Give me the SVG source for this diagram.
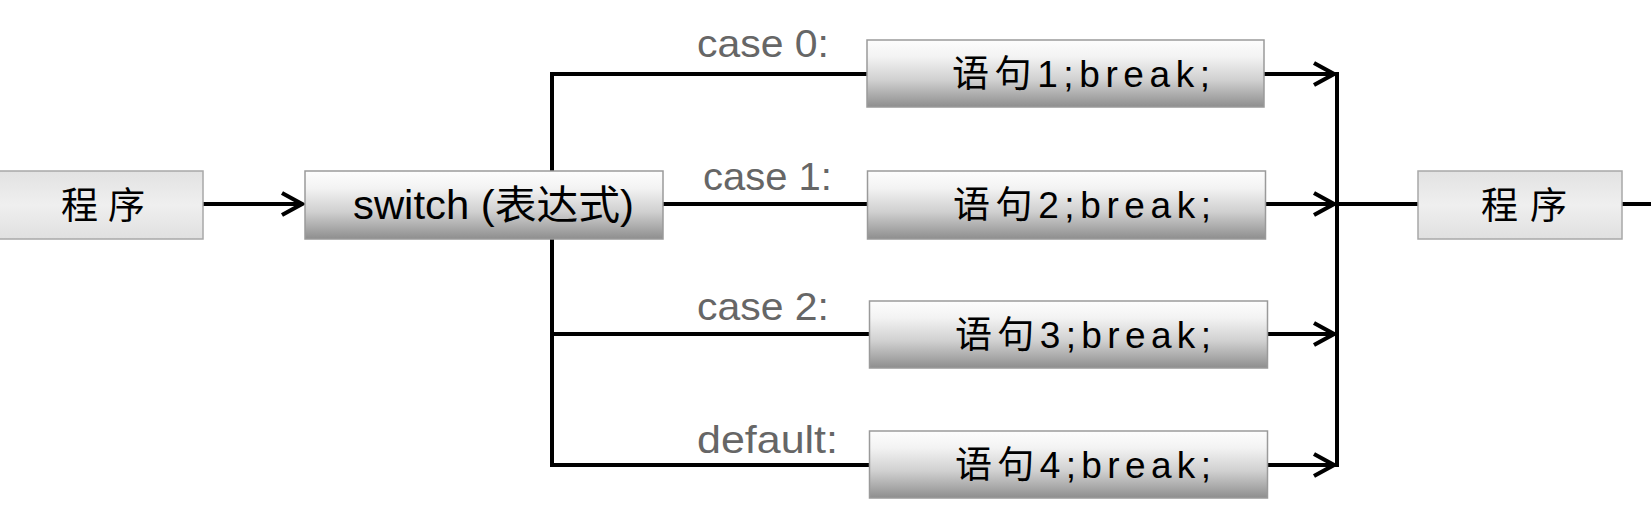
<svg xmlns="http://www.w3.org/2000/svg" width="1651" height="508" viewBox="0 0 1651 508">
<style>
.conn{fill:none;stroke:#000;stroke-width:4}
.grad{fill:url(#g1);stroke:#9a9a9a;stroke-width:1.5}
.flat{fill:url(#g2);stroke:#a8a8a8;stroke-width:1.5}
.t{font-family:"Liberation Sans","Noto Sans CJK SC",sans-serif;fill:#000}
.lbl{font-family:"Liberation Sans","Noto Sans CJK SC",sans-serif;fill:#666;font-size:39px}
</style>
<defs>
<linearGradient id="g1" x1="0" y1="0" x2="0" y2="1">
<stop offset="0" stop-color="#fdfdfd"/>
<stop offset="0.25" stop-color="#f3f3f3"/>
<stop offset="0.6" stop-color="#d0d0d0"/>
<stop offset="1" stop-color="#8e8e8e"/>
</linearGradient>
<linearGradient id="g2" x1="0" y1="0" x2="0" y2="1">
<stop offset="0" stop-color="#e2e2e2"/>
<stop offset="0.5" stop-color="#efefef"/>
<stop offset="1" stop-color="#e0e0e0"/>
</linearGradient>
<marker id="arr" markerUnits="userSpaceOnUse" viewBox="-28 -16 36 32" refX="0" refY="0" markerWidth="36" markerHeight="32" orient="auto">
<path d="M-20,-11 L0,0 L-20,11" fill="none" stroke="#000" stroke-width="4.2"/>
</marker>
</defs>
<g id="connectors">
<path class="conn" d="M203,204 H302" marker-end="url(#arr)"/>
<path class="conn" d="M663,204 H867"/>
<path class="conn" d="M552,74 V465"/>
<path class="conn" d="M550,74 H867"/>
<path class="conn" d="M552,334 H869"/>
<path class="conn" d="M550,465 H869"/>
<path class="conn" d="M1264,74 H1334" marker-end="url(#arr)"/>
<path class="conn" d="M1266,204 H1334" marker-end="url(#arr)"/>
<path class="conn" d="M1268,334 H1334" marker-end="url(#arr)"/>
<path class="conn" d="M1268,465 H1334" marker-end="url(#arr)"/>
<path class="conn" d="M1337,72 V467"/>
<path class="conn" d="M1337,204 H1418"/>
<path class="conn" d="M1622,204 H1651"/>
<text class="lbl" x="697" y="57" textLength="132" lengthAdjust="spacingAndGlyphs">case 0:</text>
<text class="lbl" x="703" y="190" textLength="129" lengthAdjust="spacingAndGlyphs">case 1:</text>
<text class="lbl" x="697" y="320" textLength="132" lengthAdjust="spacingAndGlyphs">case 2:</text>
<text class="lbl" x="697" y="453" textLength="141" lengthAdjust="spacingAndGlyphs">default:</text>
</g>
<g id="start">
<rect class="flat" x="-1" y="171" width="204" height="68"/>
<text class="t" x="61" y="219" font-size="37" textLength="84" lengthAdjust="spacing">程序</text>
</g>
<g id="switch">
<rect class="grad" x="305" y="171" width="358" height="68"/>
<text class="t" x="353" y="219" font-size="40" textLength="281" lengthAdjust="spacingAndGlyphs">switch (表达式)</text>
</g>
<g id="stmt1">
<rect class="grad" x="867" y="40" width="397" height="67"/>
<text class="t" x="952" y="87" font-size="37" textLength="258" lengthAdjust="spacing">语句1;break;</text>
</g>
<g id="stmt2">
<rect class="grad" x="867.5" y="171" width="398" height="68"/>
<text class="t" x="953" y="218" font-size="37" textLength="258" lengthAdjust="spacing">语句2;break;</text>
</g>
<g id="stmt3">
<rect class="grad" x="869.5" y="301" width="398" height="67"/>
<text class="t" x="955" y="348" font-size="37" textLength="256" lengthAdjust="spacing">语句3;break;</text>
</g>
<g id="stmt4">
<rect class="grad" x="869.5" y="431" width="398" height="67"/>
<text class="t" x="955" y="478" font-size="37" textLength="256" lengthAdjust="spacing">语句4;break;</text>
</g>
<g id="end">
<rect class="flat" x="1418" y="171" width="204" height="68"/>
<text class="t" x="1481" y="219" font-size="37" textLength="86" lengthAdjust="spacing">程序</text>
</g>
</svg>
